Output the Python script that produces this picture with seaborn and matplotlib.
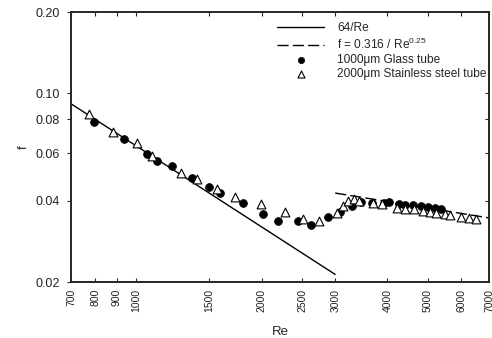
import numpy as np
import pandas as pd
import matplotlib
matplotlib.use("Agg")
import matplotlib.pyplot as plt
from matplotlib.ticker import FixedLocator, FixedFormatter, NullFormatter
import seaborn as sns

# 1000um glass tube (filled circles)
re_glass = [796, 939, 1062, 1126, 1221, 1363, 1497, 1592, 1806, 2019, 2184, 2441,
            2629, 2884, 3078, 3296, 3460, 3680, 3930, 4038, 4273, 4410, 4604, 4810,
            5013, 5185, 5360]
f_glass = [0.0784, 0.0678, 0.0596, 0.0563, 0.0538, 0.0485, 0.0448, 0.0428, 0.0393,
           0.0358, 0.0337, 0.0337, 0.0326, 0.0348, 0.0362, 0.0381, 0.0397, 0.0393,
           0.0391, 0.0395, 0.0389, 0.0385, 0.0386, 0.0384, 0.0379, 0.0375, 0.0373]

# 2000um stainless steel tube (open triangles)
re_steel = [773, 883, 1009, 1096, 1283, 1400, 1562, 1731, 1990, 2276, 2517, 2742,
            3031, 3135, 3227, 3324, 3422, 3697, 3876, 4216, 4410, 4630, 4862, 5070,
            5242, 5490, 5662, 6013, 6260, 6523]
f_steel = [0.0838, 0.0720, 0.0652, 0.0586, 0.0508, 0.0483, 0.0442, 0.0412, 0.0389,
           0.0364, 0.0341, 0.0337, 0.0359, 0.0383, 0.0400, 0.0405, 0.0400, 0.0391,
           0.0389, 0.0377, 0.0374, 0.0372, 0.0366, 0.0362, 0.0361, 0.0357, 0.0355,
           0.0349, 0.0346, 0.0343]

# correlation ranges
re_laminar = [700, 3000]
re_turb = [3000, 7000]

x_ticks = [700, 800, 900, 1000, 1500, 2000, 2500, 3000, 4000, 5000, 6000, 7000]
y_ticks = [0.02, 0.04, 0.06, 0.08, 0.10, 0.20]
y_labels = ["0.02", "0.04", "0.06", "0.08", "0.10", "0.20"]

sns.set_style("ticks")
plt.rcParams['font.family'] = ['Liberation Sans', 'DejaVu Sans']
plt.rcParams['mathtext.default'] = 'regular'

lam = pd.DataFrame({"Re": re_laminar, "f": [64 / r for r in re_laminar]})
turb = pd.DataFrame({"Re": re_turb, "f": [0.316 / r ** 0.25 for r in re_turb]})
glass = pd.DataFrame({"Re": re_glass, "f": f_glass})
steel = pd.DataFrame({"Re": re_steel, "f": f_steel})

fig = plt.figure(figsize=(4.92, 3.38), dpi=100)
ax = fig.add_axes([71 / 492, 1 - 282 / 338, 418 / 492, 270 / 338])
ax.set_xscale("log")
ax.set_yscale("log")

sns.lineplot(data=lam, x="Re", y="f", ax=ax, color="black", lw=1.0, label="64/Re")
sns.lineplot(data=turb, x="Re", y="f", ax=ax, color="black", lw=1.0,
             label=r"f = 0.316 / Re$^{0.25}$")
ax.lines[-1].set_dashes((8, 3))
sns.scatterplot(data=glass, x="Re", y="f", ax=ax, marker="o", color="black",
                s=32, edgecolor="black", linewidth=0.5, label="1000\u03bcm Glass tube", zorder=3)
sns.scatterplot(data=steel, x="Re", y="f", ax=ax, marker="^", facecolor="white",
                s=40, edgecolor="black", linewidth=0.8,
                label="2000\u03bcm Stainless steel tube", zorder=3)

ax.set_xlim(700, 7000)
ax.set_ylim(0.02, 0.20)

ax.xaxis.set_major_locator(FixedLocator(x_ticks))
ax.xaxis.set_major_formatter(FixedFormatter([str(t) for t in x_ticks]))
ax.xaxis.set_minor_locator(FixedLocator([1000]))
ax.xaxis.set_minor_formatter(NullFormatter())
ax.yaxis.set_major_locator(FixedLocator(y_ticks))
ax.yaxis.set_major_formatter(FixedFormatter(y_labels))
ax.yaxis.set_minor_locator(FixedLocator([]))

ax.tick_params(axis="x", which="major", direction="in", length=3, width=0.8,
               top=True, bottom=True, labelsize=7.5, labelcolor="#222222",
               labelrotation=90, pad=5)
ax.tick_params(axis="x", which="minor", direction="out", length=4, width=0.8,
               top=True, bottom=True)
ax.tick_params(axis="y", which="major", direction="out", length=3, width=0.8,
               labelsize=9, labelcolor="#222222", pad=5)

ax2 = ax.twinx()
ax2.set_yscale("log")
ax2.set_ylim(0.02, 0.20)
ax2.yaxis.set_major_locator(FixedLocator(y_ticks))
ax2.yaxis.set_minor_locator(FixedLocator([]))
ax2.yaxis.set_major_formatter(NullFormatter())
ax2.tick_params(axis="y", direction="in", length=3, width=0.8)

for a in (ax, ax2):
    for sp in a.spines.values():
        sp.set_linewidth(1.2)
        sp.set_visible(True)

ax.set_xlabel("Re", fontsize=9.5, labelpad=10)
ax.set_ylabel("f", fontsize=9.5, labelpad=4)

ax.legend(loc="upper right", bbox_to_anchor=(1.0, 0.97), frameon=False,
          fontsize=8.6, handlelength=3.9, handletextpad=1.1, labelspacing=0.18,
          borderpad=0.2, borderaxespad=0.0, markerscale=0.8)

fig.savefig("out.png", dpi=100)
